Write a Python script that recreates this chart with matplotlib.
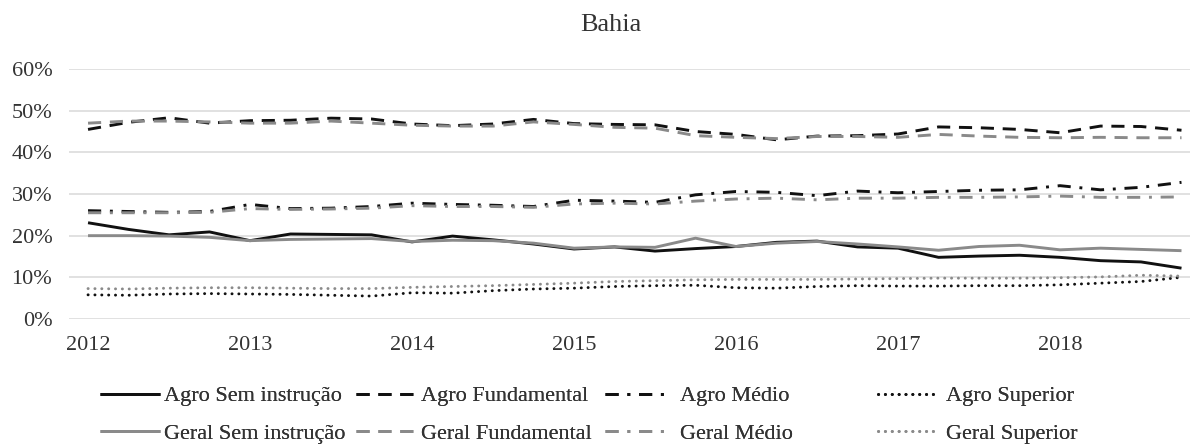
import numpy as np
import matplotlib.pyplot as plt
from matplotlib.ticker import PercentFormatter

# Data (quarterly, 2012 T1 .. 2018 T4), values in %
years = ["2012", "2013", "2014", "2015", "2016", "2017", "2018"]

agro_sem = [23.1, 21.5, 20.2, 20.9, 18.8, 20.4, 20.3, 20.2, 18.5, 19.9, 19.0, 18.0, 16.8, 17.3,
            16.3, 16.9, 17.4, 18.4, 18.7, 17.3, 17.0, 14.8, 15.1, 15.3, 14.8, 14.0, 13.7, 12.2]
geral_sem = [20.0, 20.0, 19.9, 19.6, 18.8, 19.1, 19.2, 19.3, 18.6, 18.9, 18.8, 18.2, 17.0, 17.3,
             17.2, 19.4, 17.4, 18.2, 18.6, 18.0, 17.3, 16.5, 17.4, 17.7, 16.6, 17.0, 16.7, 16.4]
agro_fund = [45.5, 47.2, 48.3, 47.0, 47.6, 47.7, 48.2, 48.0, 46.8, 46.4, 46.8, 47.9, 46.9, 46.7,
             46.6, 45.0, 44.3, 43.0, 43.9, 44.0, 44.4, 46.1, 45.9, 45.5, 44.7, 46.3, 46.2, 45.3]
geral_fund = [47.0, 47.5, 47.5, 47.3, 47.0, 47.0, 47.5, 47.0, 46.5, 46.3, 46.3, 47.3, 46.7, 46.0,
              45.8, 44.0, 43.6, 43.3, 43.8, 43.8, 43.6, 44.3, 43.9, 43.6, 43.5, 43.6, 43.5, 43.5]
agro_medio = [26.0, 25.8, 25.6, 25.8, 27.5, 26.5, 26.6, 27.0, 27.8, 27.5, 27.3, 27.0, 28.5, 28.3,
              28.0, 29.8, 30.6, 30.4, 29.6, 30.7, 30.3, 30.6, 30.9, 31.0, 32.0, 31.0, 31.6, 32.8]
geral_medio = [25.5, 25.5, 25.5, 25.6, 26.5, 26.3, 26.4, 26.6, 27.2, 27.0, 27.0, 26.8, 27.6, 27.8,
               27.6, 28.3, 28.8, 29.0, 28.6, 29.0, 29.0, 29.2, 29.2, 29.3, 29.5, 29.2, 29.2, 29.3]
agro_sup = [5.8, 5.7, 6.0, 6.1, 6.0, 5.9, 5.7, 5.5, 6.3, 6.2, 6.8, 7.2, 7.4, 7.8,
            8.0, 8.1, 7.5, 7.4, 7.8, 8.0, 7.9, 7.9, 8.0, 8.0, 8.2, 8.6, 9.0, 10.0]
geral_sup = [7.3, 7.2, 7.4, 7.5, 7.5, 7.4, 7.3, 7.3, 7.6, 7.8, 8.0, 8.3, 8.6, 9.0,
             9.2, 9.4, 9.5, 9.5, 9.5, 9.6, 9.7, 9.8, 9.8, 9.8, 9.9, 10.1, 10.5, 10.3]

plt.rcParams['font.family'] = ['Liberation Serif', 'DejaVu Serif']
text_color = '#333333'
black = '#111111'
gray = '#8a8a8a'
lw = 2.1

dash = (0, (4.5, 3.0))
dashdot = (0, (4.5, 3.0, 1.0, 3.0))
dot = (0, (0.05, 2.3))

fig = plt.figure(figsize=(11.92, 4.44), dpi=100)
ax = fig.add_axes([69 / 1192, 1 - 319 / 444, 1121 / 1192, 250 / 444])

x = np.arange(len(agro_sem))

series = [
    (agro_sem, black, '-', "Agro Sem instrução"),
    (geral_sem, gray, '-', "Geral Sem instrução"),
    (agro_fund, black, dash, "Agro Fundamental"),
    (geral_fund, gray, dash, "Geral Fundamental"),
    (agro_medio, black, dashdot, "Agro Médio"),
    (geral_medio, gray, dashdot, "Geral Médio"),
    (agro_sup, black, dot, "Agro Superior"),
    (geral_sup, gray, dot, "Geral Superior"),
]

lines = []
for vals, col, ls, lab in series:
    capstyle = 'round' if ls is dot else 'butt'
    ln, = ax.plot(x, np.array(vals) / 100, color=col, linestyle=ls, linewidth=lw,
                  label=lab, dash_capstyle=capstyle, solid_capstyle='butt')
    lines.append(ln)

# Axes styling
ax.set_ylim(0, 0.6)
ax.set_xlim(-0.47, 27.21)
ax.set_yticks(np.arange(0, 0.61, 0.1))
ax.yaxis.set_major_formatter(PercentFormatter(1.0, decimals=0))
ax.set_xticks(x[::4])
ax.set_xticklabels(years)
ax.grid(axis='y', color='#d9d9d9', linewidth=1.1)
ax.set_axisbelow(True)
for s in ax.spines.values():
    s.set_visible(False)
ax.tick_params(axis='both', length=0, labelsize=16, colors=text_color)
ax.tick_params(axis='y', pad=12)
ax.tick_params(axis='x', pad=12)

fig.text(611 / 1192, 1 - 25 / 444, "Bahia", ha='center', va='center',
         fontsize=19, color=text_color)

# Legend: four columns, each placed separately
col_x = [100, 356, 605, 878]
pads = [0.18, 0.22, 0.66, 0.35]
for k in range(4):
    leg = fig.legend(handles=lines[2 * k:2 * k + 2], loc='center left',
                     bbox_to_anchor=(col_x[k] / 1192, 1 - 415 / 444),
                     frameon=False, fontsize=16, handlelength=2.7,
                     handletextpad=pads[k], borderpad=0, borderaxespad=0,
                     labelspacing=0.78, labelcolor=text_color)
    fig.add_artist(leg)

fig.savefig("out.png", dpi=100)
